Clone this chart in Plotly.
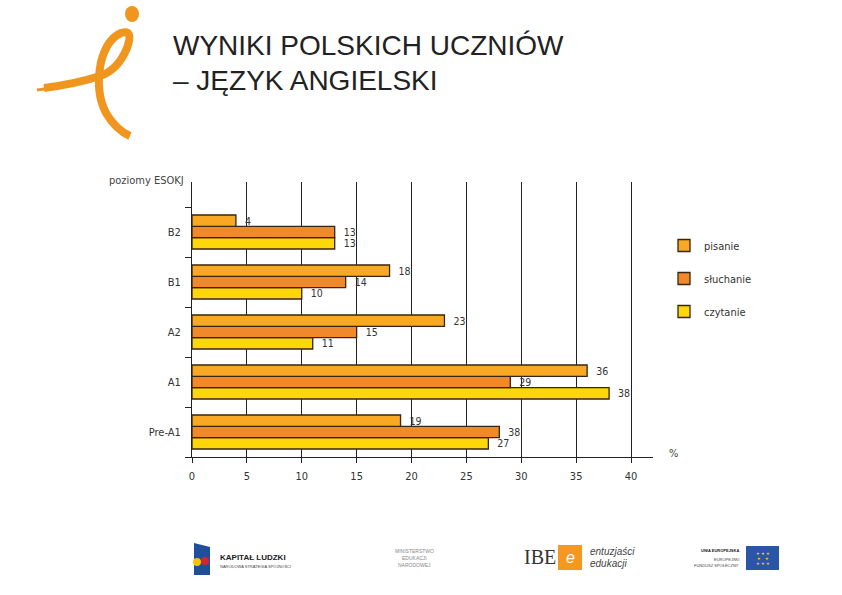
import plotly.graph_objects as go

# ---- data ----
levels = ["Pre-A1", "A1", "A2", "B1", "B2"]          # bottom -> top
pisanie = [19, 36, 23, 18, 4]
sluchanie = [28, 29, 15, 14, 13]
czytanie = [27, 38, 11, 10, 13]
pisanie_lbl = ["19", "36", "23", "18", "4"]
sluchanie_lbl = ["38", "29", "15", "14", "13"]
czytanie_lbl = ["27", "38", "11", "10", "13"]
x_ticks = [0, 5, 10, 15, 20, 25, 30, 35, 40]
x_ticktext = ["0", "5", "10", "15", "20", "25", "30", "35", "40"]

W, H = 842, 595
L, R, T, B = 192, 653, 182, 457


def px(x):
    return (x - L) / (R - L)


def py(y):
    return (B - y) / (B - T)


COND = "Liberation Sans Narrow, DejaVu Sans Condensed, Arial Narrow, Roboto Condensed, sans-serif"
SANS = "Liberation Sans, Arial, Helvetica, sans-serif"
EDGE = "#3a2412"
TXT = "#333333"

fig = go.Figure()
series = [
    ("czytanie", czytanie, czytanie_lbl, "#FDD70A", 3),
    ("słuchanie", sluchanie, sluchanie_lbl, "#F0892A", 2),
    ("pisanie", pisanie, pisanie_lbl, "#F9A823", 1),
]
for name, vals, lbls, col, rank in series:
    fig.add_trace(go.Bar(
        y=levels, x=vals, orientation="h", name=name, legendgroup=name,
        legendrank=rank,
        marker=dict(color=col, line=dict(color=EDGE, width=1.3)),
        text=lbls, texttemplate="  %{text}", textposition="outside",
        constraintext="none", cliponaxis=False,
        textfont=dict(family=COND, size=10.5, color=TXT),
    ))

fig.update_layout(
    width=W, height=H, autosize=False,
    margin=dict(l=L, r=W - R, t=T, b=H - B, autoexpand=False),
    paper_bgcolor="white", plot_bgcolor="white",
    barmode="group", bargap=0.32, bargroupgap=0,
    showlegend=True,
    legend=dict(
        x=px(664), y=py(231), xanchor="left", yanchor="top",
        traceorder="grouped", tracegroupgap=14,
        font=dict(family=COND, size=11, color=TXT),
        bgcolor="rgba(0,0,0,0)",
    ),
    xaxis=dict(
        range=[0, 42], tickvals=x_ticks, ticktext=x_ticktext,
        showgrid=True, gridcolor="#222222", gridwidth=1, zeroline=False,
        showline=True, linecolor="#222222", linewidth=1,
        ticks="outside", ticklen=5, tickcolor="#222222",
        tickfont=dict(family=COND, size=11, color=TXT),
        ticklabelstandoff=4,
    ),
    yaxis=dict(
        type="category", categoryorder="array", categoryarray=levels,
        range=[-0.5, 5.0], tickson="boundaries",
        showgrid=False, zeroline=False,
        showline=True, linecolor="#222222", linewidth=1,
        ticks="outside", ticklen=6, tickcolor="#222222",
        tickfont=dict(family=COND, size=11, color=TXT),
        ticklabelstandoff=8,
    ),
)

ann = []


def add_text(x, y, text, size, family=SANS, color="#1a1a1a", xanchor="left", yanchor="middle", **kw):
    ann.append(dict(x=px(x), y=py(y), xref="paper", yref="paper", text=text,
                    showarrow=False, xanchor=xanchor, yanchor=yanchor,
                    font=dict(family=family, size=size, color=color), **kw))


# title
add_text(171, 46, "WYNIKI POLSKICH UCZNIÓW", 28, color="#222222")
add_text(171, 80, "– JĘZYK ANGIELSKI", 28, color="#222222")
# axis captions
add_text(186, 180, "poziomy ESOKJ", 11, family=COND, color="#444444", xanchor="right")
add_text(667, 453, "%", 11, family=COND, color="#444444")

shapes = []


def P(x, y):
    return f"{px(x):.5f},{py(y):.5f}"


ORANGE = "#F0961E"
# logo ribbon
logo_path = ("M " + P(44, 88) + " Q " + P(75, 84) + " " + P(100, 76)
             + " Q " + P(118, 70) + " " + P(127, 48)
             + " Q " + P(134, 29) + " " + P(121, 33)
             + " Q " + P(107, 39) + " " + P(101, 62)
             + " Q " + P(95, 92) + " " + P(106, 113)
             + " Q " + P(116, 130) + " " + P(130, 136))
shapes.append(dict(type="path", xref="paper", yref="paper", path=logo_path,
                   line=dict(color=ORANGE, width=8), fillcolor="rgba(0,0,0,0)", layer="above"))
shapes.append(dict(type="path", xref="paper", yref="paper",
                   path="M " + P(37, 90) + " Q " + P(70, 86) + " " + P(98, 78),
                   line=dict(color=ORANGE, width=3), layer="above"))
shapes.append(dict(type="circle", xref="paper", yref="paper",
                   x0=px(125), x1=px(139), y0=py(6), y1=py(22),
                   fillcolor=ORANGE, line=dict(width=0)))

# footer logos
shapes.append(dict(type="path", xref="paper", yref="paper",
                   path="M " + P(194, 543) + " L " + P(210, 547) + " L " + P(210, 575) + " L " + P(194, 575) + " Z",
                   fillcolor="#1f4e9a", line=dict(width=0)))
shapes.append(dict(type="circle", xref="paper", yref="paper",
                   x0=px(201), x1=px(209), y0=py(557), y1=py(565), fillcolor="#d6262b", line=dict(width=0)))
shapes.append(dict(type="circle", xref="paper", yref="paper",
                   x0=px(193), x1=px(201), y0=py(558), y1=py(566), fillcolor="#f5c400", line=dict(width=0)))
add_text(218, 557, "<b>KAPITAŁ LUDZKI</b>", 8, color="#222")
add_text(218, 566, "NARODOWA STRATEGIA SPÓJNOŚCI", 4, color="#444")
add_text(414, 551, "MINISTERSTWO", 5, color="#888", xanchor="center")
add_text(414, 558, "EDUKACJI", 5, color="#888", xanchor="center")
add_text(414, 565, "NARODOWEJ", 5, color="#888", xanchor="center")
add_text(540, 557, "IBE", 20, family="Liberation Serif, Times New Roman, serif", color="#333", xanchor="center")
shapes.append(dict(type="rect", xref="paper", yref="paper",
                   x0=px(558), x1=px(582), y0=py(545), y1=py(570), fillcolor="#F39A1E", line=dict(width=0)))
add_text(570, 557, "<i>e</i>", 16, color="white", xanchor="center")
add_text(588, 551, "<i>entuzjaści</i>", 10, color="#444")
add_text(588, 563, "<i>edukacji</i>", 10, color="#444")
add_text(741, 550, "<b>UNIA EUROPEJSKA</b>", 4, color="#222", xanchor="right")
add_text(741, 559, "EUROPEJSKI", 4, color="#444", xanchor="right")
add_text(741, 565, "FUNDUSZ SPOŁECZNY", 4, color="#444", xanchor="right")
shapes.append(dict(type="rect", xref="paper", yref="paper",
                   x0=px(746), x1=px(779), y0=py(546), y1=py(570), fillcolor="#2b56a8", line=dict(width=0)))
add_text(762.5, 558, "★ ★ ★<br>★   ★<br>★ ★ ★", 4, color="#ffd800", xanchor="center", align="center")

fig.update_layout(annotations=ann, shapes=shapes)
fig.write_html("out.html", config={"displayModeBar": False},
               post_script="document.body.style.margin='0px';")
